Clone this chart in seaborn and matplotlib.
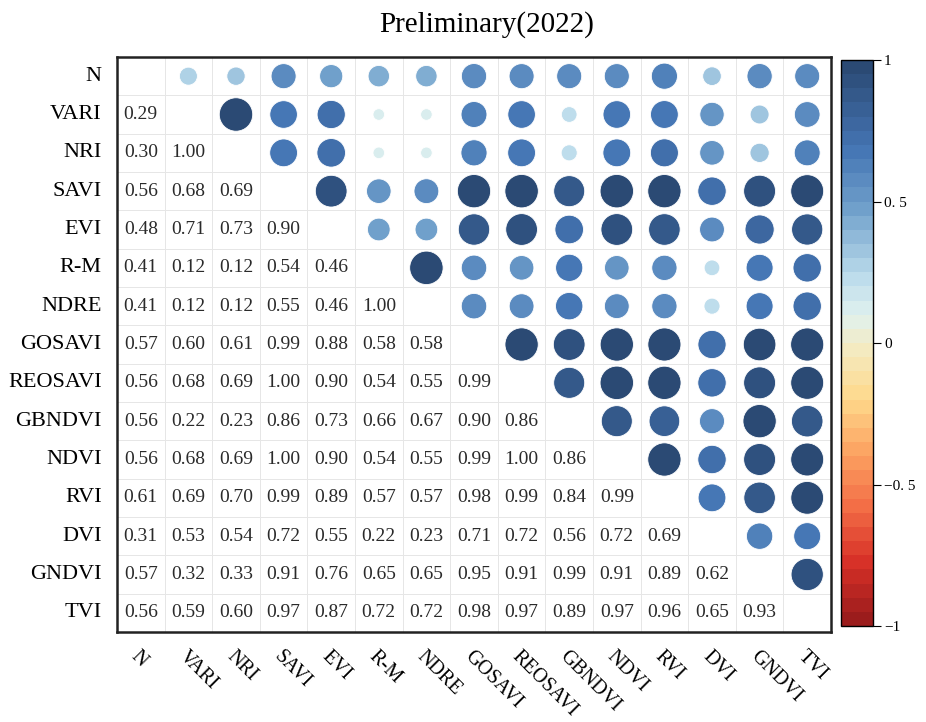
import numpy as np
import pandas as pd
import matplotlib
matplotlib.use("Agg")
import matplotlib.pyplot as plt
import seaborn as sns
from matplotlib.colors import LinearSegmentedColormap, ListedColormap, Normalize
from matplotlib.cm import ScalarMappable

labels = ["N", "VARI", "NRI", "SAVI", "EVI", "R-M", "NDRE", "GOSAVI", "REOSAVI",
          "GBNDVI", "NDVI", "RVI", "DVI", "GNDVI", "TVI"]

# lower-triangle correlation values, row by row
lower_rows = [
    [],
    [0.29],
    [0.30, 1.00],
    [0.56, 0.68, 0.69],
    [0.48, 0.71, 0.73, 0.90],
    [0.41, 0.12, 0.12, 0.54, 0.46],
    [0.41, 0.12, 0.12, 0.55, 0.46, 1.00],
    [0.57, 0.60, 0.61, 0.99, 0.88, 0.58, 0.58],
    [0.56, 0.68, 0.69, 1.00, 0.90, 0.54, 0.55, 0.99],
    [0.56, 0.22, 0.23, 0.86, 0.73, 0.66, 0.67, 0.90, 0.86],
    [0.56, 0.68, 0.69, 1.00, 0.90, 0.54, 0.55, 0.99, 1.00, 0.86],
    [0.61, 0.69, 0.70, 0.99, 0.89, 0.57, 0.57, 0.98, 0.99, 0.84, 0.99],
    [0.31, 0.53, 0.54, 0.72, 0.55, 0.22, 0.23, 0.71, 0.72, 0.56, 0.72, 0.69],
    [0.57, 0.32, 0.33, 0.91, 0.76, 0.65, 0.65, 0.95, 0.91, 0.99, 0.91, 0.89, 0.62],
    [0.56, 0.59, 0.60, 0.97, 0.87, 0.72, 0.72, 0.98, 0.97, 0.89, 0.97, 0.96, 0.65, 0.93],
]

cbar_ticks = [-1, -0.5, 0, 0.5, 1]
cbar_ticklabels = ["\u22121", "\u22120. 5", "0", "0. 5", "1"]

n = len(labels)
M = np.eye(n)
for i, row in enumerate(lower_rows):
    for j, v in enumerate(row):
        M[i, j] = v
        M[j, i] = v

annot = np.full((n, n), "", dtype=object)
for i in range(n):
    for j in range(i):
        annot[i, j] = f"{M[i, j]:.2f}"

# upper triangle points
pts = []
for i in range(n):
    for j in range(i + 1, n):
        pts.append({"x": j + 0.5, "y": i + 0.5, "r": M[i, j], "a": abs(M[i, j])})
pts = pd.DataFrame(pts)

cmap = LinearSegmentedColormap.from_list(
    "corr",
    [(0.0, "#9b1c1c"), (0.1, "#d62f27"), (0.2, "#f26b45"), (0.3, "#fca261"),
     (0.4, "#fed98c"), (0.5, "#f2ecc8"), (0.55, "#e0f1ee"), (0.62, "#bcdcec"),
     (0.75, "#6c9dc9"), (0.85, "#4575b4"), (1.0, "#2b4a74")], N=40)

plt.rcParams["font.family"] = ["Liberation Serif", "DejaVu Serif"]
fig = plt.figure(figsize=(9.26, 7.22), dpi=100)
W, H = 926, 722
L, R, T, B = 117, 831, 57, 632
ax = fig.add_axes([L / W, (H - B) / H, (R - L) / W, (B - T) / H])

sns.heatmap(M, ax=ax, cmap=ListedColormap(["white"]), cbar=False,
            annot=annot, fmt="", annot_kws={"fontsize": 14, "color": "#2a2a2a"},
            linewidths=0.6, linecolor="#e6e6e6", square=False)

sns.scatterplot(data=pts, x="x", y="y", hue="r", size="a", ax=ax,
                palette=cmap, hue_norm=(-1, 1), sizes=(0, 580), size_norm=(0, 1),
                edgecolor="white", linewidth=0.6, legend=False, zorder=3)

ax.set_xlim(0, n)
ax.set_ylim(n, 0)
ax.set_xlabel("")
ax.set_ylabel("")
ax.set_yticks(np.arange(n) + 0.5)
ax.set_yticklabels(labels, fontsize=16, rotation=0)
ax.set_xticks(np.arange(n) + 0.5)
ax.set_xticklabels(labels, fontsize=14.5, rotation=-45, ha="left", va="top",
                   rotation_mode="anchor")
ax.tick_params(axis="y", length=0, pad=11)
ax.tick_params(axis="x", length=0, pad=11)
for s in ax.spines.values():
    s.set_visible(True)
    s.set_linewidth(1.8)
    s.set_color("#222222")

cax = fig.add_axes([841 / W, (H - 626) / H, 32 / W, 566 / H])
sm = ScalarMappable(norm=Normalize(-1, 1), cmap=cmap)
cb = fig.colorbar(sm, cax=cax, ticks=cbar_ticks)
cb.ax.set_yticklabels(cbar_ticklabels, fontsize=11)
cb.ax.tick_params(length=6, width=0.8, pad=2)
cb.outline.set_linewidth(1.0)

fig.text(487 / W, 1 - 25 / H, "Preliminary(2022)", ha="center", va="center",
         fontsize=21)

fig.savefig("out.png", dpi=100)
